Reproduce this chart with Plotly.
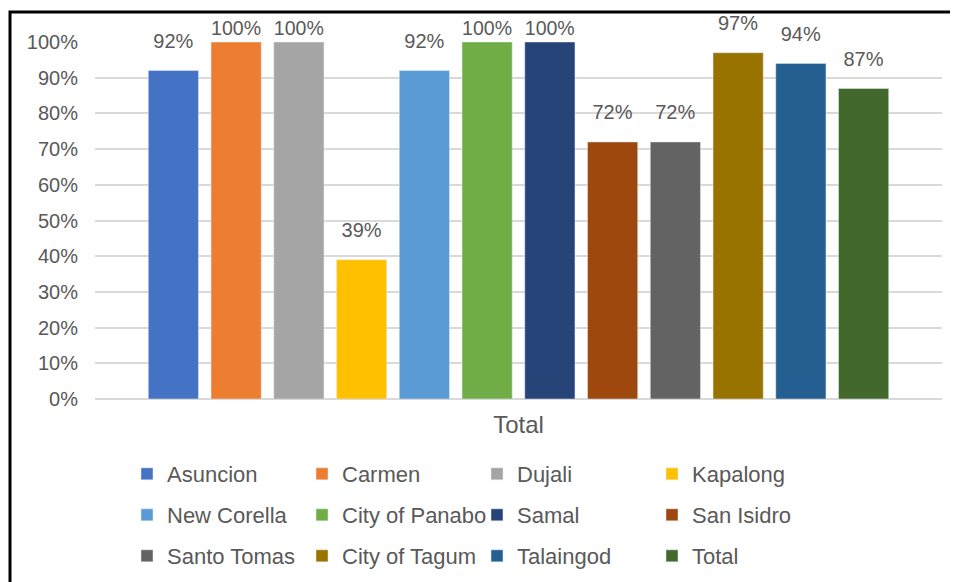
import plotly.graph_objects as go

category = ["Total"]
series_names = ["Asuncion", "Carmen", "Dujali", "Kapalong", "New Corella", "City of Panabo",
                "Samal", "San Isidro", "Santo Tomas", "City of Tagum", "Talaingod", "Total"]
series_values = [0.92, 1.00, 1.00, 0.39, 0.92, 1.00, 1.00, 0.72, 0.72, 0.97, 0.94, 0.87]
colors = ["#4472C4", "#ED7D31", "#A5A5A5", "#FFC000", "#5B9BD5", "#70AD47",
          "#264478", "#9E480E", "#636363", "#997300", "#255E91", "#43682B"]
y_ticks = [0, 0.1, 0.2, 0.3, 0.4, 0.5, 0.6, 0.7, 0.8, 0.9, 1.0]

FONT = "Liberation Sans, Arial, sans-serif"
GREY = "#595959"

fig = go.Figure()
legends = ["legend", "legend2", "legend3"]
for i, (name, v, c) in enumerate(zip(series_names, series_values, colors)):
    label = f"<span style='font-size:20px'>{v:.0%}</span>" + ("" if v >= 0.995 else "<br> ")
    fig.add_trace(go.Bar(
        x=category, y=[v], name=name, marker_color=c,
        text=[label], textposition="outside", cliponaxis=False,
        textfont=dict(family=FONT, size=13, color=GREY),
        legend=legends[i // 4],
        hoverinfo="skip",
    ))

# page body has an 8px margin, so layout pixels are screen pixels minus 8
W, H = 958, 582
left, right, top, bottom = 87, 24, 34, 191

leg_common = dict(orientation="h", xref="container", yref="container",
                  xanchor="left", yanchor="middle",
                  entrywidth=130, entrywidthmode="pixels",
                  font=dict(family=FONT, size=22, color=GREY),
                  bgcolor="rgba(0,0,0,0)", itemclick=False, itemdoubleclick=False,
                  traceorder="normal")
x_leg = 119 / W
rows_y = [466, 507, 548]

fig.update_layout(
    width=W, height=H,
    margin=dict(l=left, r=right, t=top, b=bottom, autoexpand=False),
    paper_bgcolor="white", plot_bgcolor="white",
    barmode="group", bargap=0.111, bargroupgap=0.2,
    showlegend=True,
    legend=dict(**leg_common, x=x_leg, y=1 - rows_y[0] / H),
    legend2=dict(**leg_common, x=x_leg, y=1 - rows_y[1] / H),
    legend3=dict(**leg_common, x=x_leg, y=1 - rows_y[2] / H),
    xaxis=dict(showgrid=False, showline=False, ticks="",
               tickfont=dict(family=FONT, size=24, color=GREY),
               ticklabelstandoff=9),
    yaxis=dict(range=[0, 1], tickvals=y_ticks, tickformat=".0%",
               showgrid=True, gridcolor="#D9D9D9", gridwidth=1.5,
               zeroline=True, zerolinecolor="#D9D9D9", zerolinewidth=1.5,
               showline=False, ticks="",
               tickfont=dict(family=FONT, size=20, color=GREY),
               ticklabelstandoff=16),
)

# chart border (top and left visible; rest runs off-canvas)
pw = W - left - right
ph = H - top - bottom
fig.add_shape(type="rect", xref="paper", yref="paper",
              x0=(2 - left) / pw, x1=(1010 - left) / pw,
              y0=(H - bottom - 640) / ph, y1=(H - bottom - 4) / ph,
              line=dict(color="black", width=3), fillcolor="rgba(0,0,0,0)", layer="above")

fig.write_html("out.html")
